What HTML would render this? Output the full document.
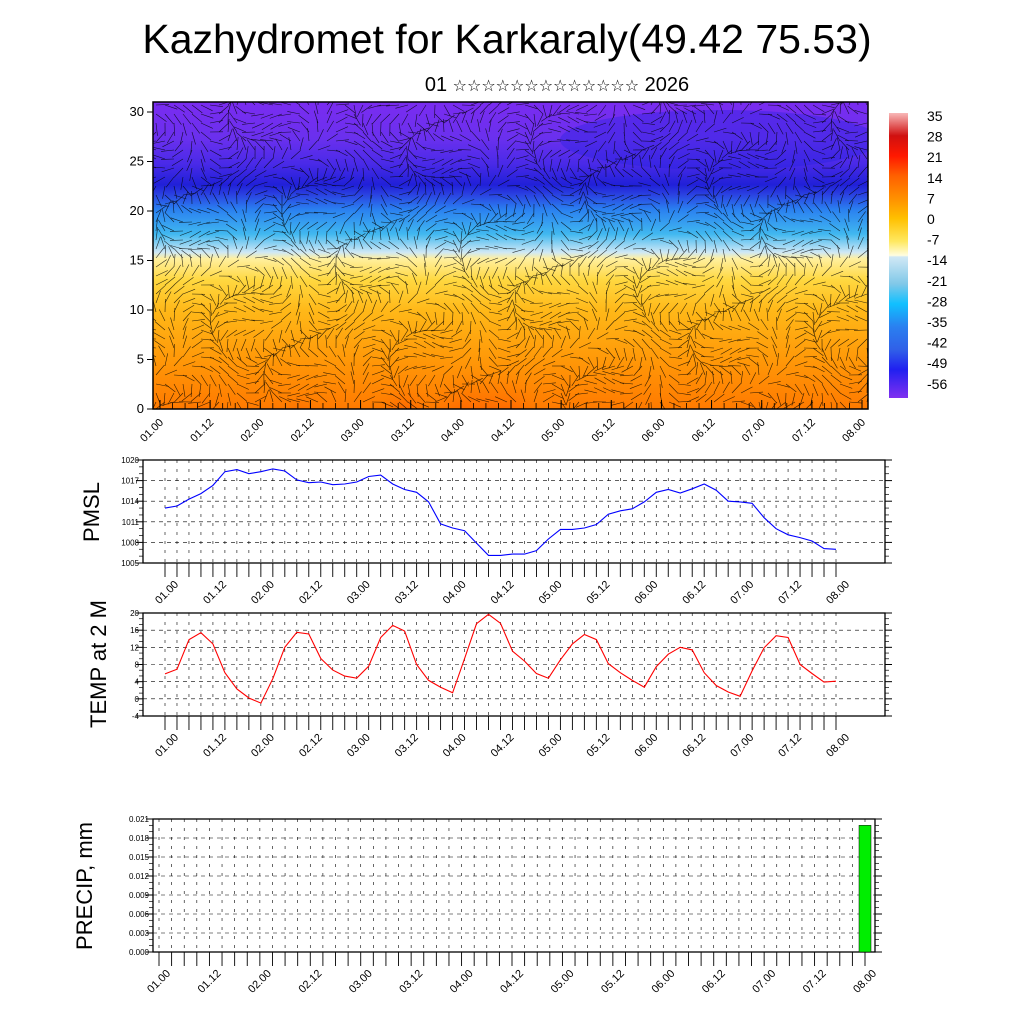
<!DOCTYPE html>
<html><head><meta charset="utf-8">
<style>
html,body{margin:0;padding:0;background:#fff;}
svg{display:block;font-family:"Liberation Sans",sans-serif;}
</style></head>
<body>
<svg id="c" width="1024" height="1024" viewBox="0 0 1024 1024" xmlns="http://www.w3.org/2000/svg">
<defs>
<linearGradient id="tg" x1="0" y1="0" x2="0" y2="1">
<stop offset="0" stop-color="#7a2cf0"/>
<stop offset="0.12" stop-color="#6a30ee"/>
<stop offset="0.2" stop-color="#4a2ae8"/>
<stop offset="0.27" stop-color="#2020d8"/>
<stop offset="0.3" stop-color="#2a40e0"/>
<stop offset="0.35" stop-color="#2a80f0"/>
<stop offset="0.43" stop-color="#40b8f0"/>
<stop offset="0.49" stop-color="#cfe8f5"/>
<stop offset="0.51" stop-color="#fff0a0"/>
<stop offset="0.58" stop-color="#ffd840"/>
<stop offset="0.68" stop-color="#ffb818"/>
<stop offset="0.84" stop-color="#ff9808"/>
<stop offset="1" stop-color="#ff7a00"/>
</linearGradient>
<radialGradient id="rs" cx="0.5" cy="1" r="0.7">
<stop offset="0" stop-color="#ff2000" stop-opacity="0.95"/>
<stop offset="0.6" stop-color="#ff4800" stop-opacity="0.6"/>
<stop offset="1" stop-color="#ff8000" stop-opacity="0"/>
</radialGradient>
<linearGradient id="cb" x1="0" y1="0" x2="0" y2="1">
<stop offset="0" stop-color="#f8b8b8"/>
<stop offset="0.08" stop-color="#d01010"/>
<stop offset="0.15" stop-color="#ff1800"/>
<stop offset="0.22" stop-color="#ff6000"/>
<stop offset="0.3" stop-color="#ff9000"/>
<stop offset="0.37" stop-color="#ffc000"/>
<stop offset="0.45" stop-color="#ffe860"/>
<stop offset="0.5" stop-color="#fffde0"/>
<stop offset="0.505" stop-color="#d0e8f5"/>
<stop offset="0.6" stop-color="#80c8e8"/>
<stop offset="0.67" stop-color="#10c0ff"/>
<stop offset="0.75" stop-color="#2a80f0"/>
<stop offset="0.83" stop-color="#3060e8"/>
<stop offset="0.9" stop-color="#2020f0"/>
<stop offset="1" stop-color="#8030f0"/>
</linearGradient>
<clipPath id="topclip"><rect x="153" y="102" width="715" height="307"/></clipPath>
</defs>
<text x="507" y="53" font-size="41" text-anchor="middle">Kazhydromet for Karkaraly(49.42 75.53)</text>
<text x="557" y="91" font-size="20" text-anchor="middle" font-family="Liberation Sans, DejaVu Sans, sans-serif">01 <tspan font-size="16">☆☆☆☆☆☆☆☆☆☆☆☆☆</tspan> 2026</text>

<g id="top">
<rect x="153" y="102" width="715" height="307" fill="url(#tg)"/>
<g clip-path="url(#topclip)">
<ellipse cx="405" cy="409" rx="30" ry="80" fill="url(#rs)"/>
<ellipse cx="470" cy="409" rx="45" ry="110" fill="url(#rs)"/>
<ellipse cx="505" cy="409" rx="40" ry="100" fill="url(#rs)"/>
<ellipse cx="300" cy="409" rx="20" ry="50" fill="url(#rs)" opacity="0.5"/>
<ellipse cx="200" cy="409" rx="30" ry="50" fill="url(#rs)" opacity="0.35"/>
<ellipse cx="720" cy="140" rx="160" ry="30" fill="#2020e0" opacity="0.35"/>
<g id="winds" stroke="#000" stroke-width="0.6" opacity="0.8"></g>
</g>
<rect x="153" y="102" width="715" height="307" fill="none" stroke="#000" stroke-width="1.5"/>
<g id="topaxis"></g>
</g>
<g>
<rect x="889" y="113" width="19" height="285" fill="url(#cb)"/>
<g id="cblabels" font-size="14"></g>
</g>
<g id="pmsl"></g>
<g id="temp"></g>
<g id="precip"></g>
<text transform="translate(99,512) rotate(-90)" font-size="22" text-anchor="middle">PMSL</text>
<text transform="translate(106,664) rotate(-90)" font-size="22" text-anchor="middle">TEMP at 2 M</text>
<text transform="translate(92,886) rotate(-90)" font-size="22" text-anchor="middle">PRECIP, mm</text>
</svg>
<script>
const xLabels = ["01.00","01.12","02.00","02.12","03.00","03.12","04.00","04.12","05.00","05.12","06.00","06.12","07.00","07.12","08.00"];
const pmslValues = [1013.0,1013.3,1014.3,1015.1,1016.3,1018.3,1018.6,1018.0,1018.3,1018.7,1018.4,1017.1,1016.7,1016.8,1016.4,1016.5,1016.8,1017.6,1017.8,1016.5,1015.7,1015.3,1013.9,1010.7,1010.1,1009.7,1007.9,1006.1,1006.1,1006.3,1006.3,1006.8,1008.5,1009.9,1009.9,1010.1,1010.6,1012.1,1012.6,1012.9,1013.9,1015.3,1015.7,1015.2,1015.8,1016.5,1015.6,1014.0,1013.9,1013.7,1011.6,1010.0,1009.1,1008.7,1008.2,1007.1,1007.0];
const tempValues = [5.8,6.9,13.8,15.4,12.8,6.1,2.3,0.2,-1.0,4.7,12.0,15.5,15.1,9.4,6.7,5.3,4.8,7.6,14.3,17.1,15.8,8.0,4.3,2.7,1.4,9.4,17.5,19.7,17.6,11.1,8.8,5.9,4.8,9.1,12.8,15.0,13.8,8.2,6.1,4.3,2.7,7.5,10.4,12.0,11.4,6.1,3.1,1.6,0.6,6.5,11.9,14.7,14.3,8.0,5.9,3.9,4.1];
const precipValues = [0,0,0,0,0,0,0,0,0,0,0,0,0,0,0,0,0,0,0,0,0,0,0,0,0,0,0,0,0,0,0,0,0,0,0,0,0,0,0,0,0,0,0,0,0,0,0,0,0,0,0,0,0,0,0,0,0.020];
const pmslTicks = [1005,1008,1011,1014,1017,1020];
const tempTicks = [-4,0,4,8,12,16,20];
const precipTicks = ["0.000","0.003","0.006","0.009","0.012","0.015","0.018","0.021"];
const heightTicks = [0,5,10,15,20,25,30];
const cbTicks = [35,28,21,14,7,0,-7,-14,-21,-28,-35,-42,-49,-56];

const NS="http://www.w3.org/2000/svg";
function mk(tag,attrs,parent){const e=document.createElementNS(NS,tag);for(const k in attrs)e.setAttribute(k,attrs[k]);parent.appendChild(e);return e;}

const cbl=document.getElementById('cblabels');
cbTicks.forEach((v,i)=>{const t=mk('text',{x:927,y:121+i*20.6},cbl);t.textContent=v;

});

const wg=document.getElementById('winds');
for(let gx=156;gx<868;gx+=9){for(let gy=105;gy<409;gy+=9){
 const a=Math.sin(gx*0.031+gy*0.02)*2.2+Math.cos(gy*0.05-gx*0.011)*1.5;
 const L=13;const dx=Math.cos(a)*L,dy=Math.sin(a)*L;
 mk('line',{x1:gx,y1:gy,x2:(gx+dx).toFixed(1),y2:(gy+dy).toFixed(1)},wg);
}}

const ta=document.getElementById('topaxis');
const topX=h=>160+h*(862-160)/168;
const topY=v=>409-v*(409-112)/30;
heightTicks.forEach(v=>{const y=topY(v);
 mk('line',{x1:153,y1:y,x2:147,y2:y,stroke:'#000'},ta);
 const t=mk('text',{x:144,y:y+4,'font-size':13,'text-anchor':'end'},ta);t.textContent=v;
 
 });
xLabels.forEach((s,i)=>{const x=topX(i*12);
 mk('line',{x1:x,y1:409,x2:x,y2:400,stroke:'#000'},ta);
 const t=mk('text',{transform:`translate(${x+4},${423}) rotate(-45)`,'font-size':11,'text-anchor':'end'},ta);t.textContent=s;
 
 });
for(let h=0;h<=168;h+=3){const x=topX(h);mk('line',{x1:x,y1:409,x2:x,y2:403,stroke:'#000','stroke-width':0.8},ta);}

function panel(id,box,ymin,ymax,ticks,tickLabels,x0,x1,fontTick,lblShift){
 const g=document.getElementById(id);
 const X=h=>x0+h*(x1-x0)/168;
 const Y=v=>box.y+box.h-(v-ymin)/(ymax-ymin)*box.h;
 ticks.forEach(v=>{const y=Y(v);
  mk('line',{x1:box.x,y1:y,x2:box.x+box.w,y2:y,stroke:'#000','stroke-width':0.6,'stroke-dasharray':'4,4'},g);});
 for(let h=0;h<=168;h+=3){const x=X(h);
  mk('line',{x1:x,y1:box.y,x2:x,y2:box.y+box.h,stroke:'#000','stroke-width':0.6,'stroke-dasharray':'3,6'},g);
  mk('line',{x1:x,y1:box.y+box.h,x2:x,y2:box.y+box.h+14,stroke:'#000','stroke-width':0.9},g);}
 const n=ticks.length;
 for(let i=0;i<n;i++){const y=Y(ticks[i]);
  mk('line',{x1:box.x-7,y1:y,x2:box.x,y2:y,stroke:'#000'},g);
  mk('line',{x1:box.x+box.w,y1:y,x2:box.x+box.w+7,y2:y,stroke:'#000'},g);
  const t=mk('text',{x:box.x-4,y:y+3,'font-size':fontTick,'text-anchor':'end'},g);t.textContent=tickLabels[i];
  
  
  if(i<n-1){const step=(ticks[i+1]-ticks[i])/3;for(let k=1;k<3;k++){const ym=Y(ticks[i]+k*step);
   mk('line',{x1:box.x-4,y1:ym,x2:box.x,y2:ym,stroke:'#000','stroke-width':0.7},g);
   mk('line',{x1:box.x+box.w,y1:ym,x2:box.x+box.w+4,y2:ym,stroke:'#000','stroke-width':0.7},g);}}
 }
 mk('rect',{x:box.x,y:box.y,width:box.w,height:box.h,fill:'none',stroke:'#000','stroke-width':1.3},g);
 xLabels.forEach((s,i)=>{const x=X(i*12);
  const t=mk('text',{transform:`translate(${x+lblShift},${box.y+box.h+22}) rotate(-45)`,'font-size':11,'text-anchor':'end'},g);t.textContent=s;
  
  });
 return {g,X,Y};
}
let p=panel('pmsl',{x:143,y:460,w:742,h:103},1005,1020,pmslTicks,pmslTicks,165,836,8,14);
let d=pmslValues.map((v,i)=>(i?'L':'M')+p.X(i*3).toFixed(1)+','+p.Y(v).toFixed(1)).join('');
let ln=mk('path',{d:d,fill:'none',stroke:'#0000ff','stroke-width':1.1},p.g);



p=panel('temp',{x:143,y:613,w:742,h:103},-4,20,tempTicks,tempTicks,165,836,8,14);
d=tempValues.map((v,i)=>(i?'L':'M')+p.X(i*3).toFixed(1)+','+p.Y(v).toFixed(1)).join('');
ln=mk('path',{d:d,fill:'none',stroke:'#ff0000','stroke-width':1.1},p.g);



const pt=precipTicks.map(Number);
p=panel('precip',{x:153,y:819,w:722,h:133},0,0.021,pt,precipTicks,159,865,8,12);
precipValues.forEach((v,i)=>{if(v>0){const x=p.X(i*3);
 const b=mk('rect',{x:x-6,y:p.Y(v),width:12,height:p.Y(0)-p.Y(v),fill:'#00ee00',stroke:'#000','stroke-width':0.5},p.g);
 
 }});
</script>
</body></html>
